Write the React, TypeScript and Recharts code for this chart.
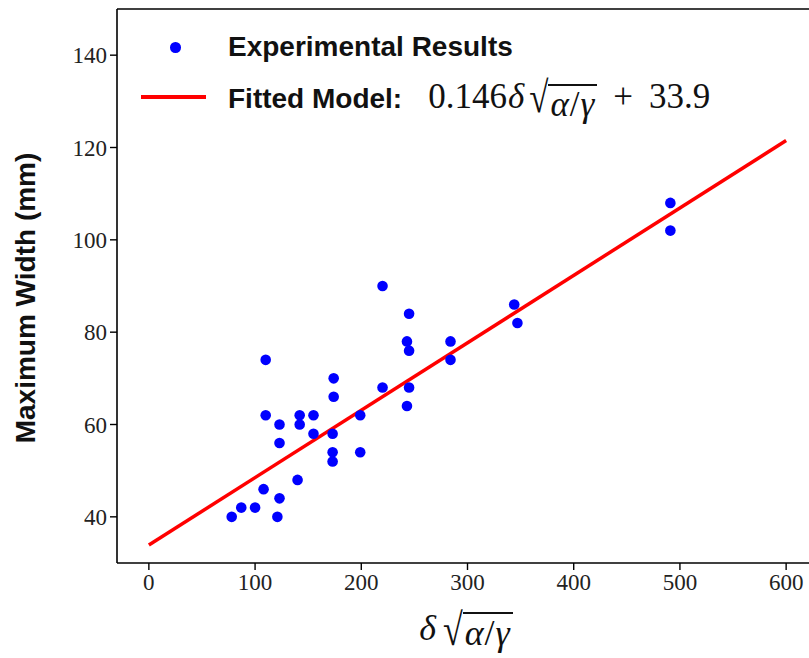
import React from "react";
import { ScatterChart, Scatter, XAxis, YAxis, Label, ReferenceLine } from "recharts";

const expX = [78, 87, 100, 121, 108, 123, 140, 110, 110, 123, 123, 142, 142, 155, 155, 174, 174, 173, 173, 173, 199, 199, 220, 220, 245, 243, 245, 245, 243, 284, 284, 344, 347, 491, 491];
const expY = [40, 42, 42, 40, 46, 44, 48, 74, 62, 60, 56, 62, 60, 62, 58, 70, 66, 58, 54, 52, 62, 54, 90, 68, 84, 78, 76, 68, 64, 78, 74, 86, 82, 108, 102];

// fitted model 0.146 x + 33.9, end points
const fitX = [0, 600];
const fitY = [33.9, 121.5];

const xTicks = [0, 100, 200, 300, 400, 500, 600];
const yTicks = [40, 60, 80, 100, 120, 140];

const expData = expX.map((x, i) => ({ x, y: expY[i] }));
const fitData = fitX.map((x, i) => ({ x, y: fitY[i] }));

const BLUE = "#0000ff";
const RED = "#ff0000";
const serif = "'Liberation Serif', 'DejaVu Serif', serif";
const sans = "'Liberation Sans', 'DejaVu Sans', sans-serif";

const tickStyle = { fontFamily: serif, fontSize: 23, fill: "#222" };

function Dot(props: any) {
  const { cx, cy } = props;
  return <circle cx={cx} cy={cy} r={5.3} fill={BLUE} />;
}

// radical sign with a bar over its argument
function Sqrt({ children, bar = 2 }: { children: React.ReactNode; bar?: number }) {
  return (
    <span style={{ whiteSpace: "nowrap", display: "inline-flex", alignItems: "flex-start" }}>
      <span style={{ fontStyle: "normal", display: "inline-block", transform: "scaleY(1.25)", transformOrigin: "50% 30%" }}>√</span>
      <span style={{ borderTop: `${bar}px solid #111`, marginTop: "0.12em", lineHeight: "1.1em", paddingLeft: 2, paddingRight: 2, letterSpacing: 1 }}>{children}</span>
    </span>
  );
}

function YLabel(props: any) {
  const { viewBox } = props;
  const cx = 25;
  const cy = viewBox.y + viewBox.height / 2 + 12;
  return (
    <text
      x={cx}
      y={cy}
      transform={`rotate(-90, ${cx}, ${cy})`}
      textAnchor="middle"
      dominantBaseline="central"
      style={{ fontFamily: sans, fontWeight: "bold", fontSize: 28, fill: "#111" }}
    >
      Maximum Width (mm)
    </text>
  );
}

export default function App() {
  return (
    <div style={{ position: "absolute", left: 0, top: 0, width: 809, height: 658, overflow: "hidden", background: "#fff" }}>
      <ScatterChart width={830} height={658} margin={{ top: 9, right: 12, bottom: 0, left: 0 }}>
        <XAxis
          type="number"
          dataKey="x"
          domain={[-30, 630]}
          ticks={xTicks}
          allowDataOverflow
          height={95}
          tickSize={7}
          tickMargin={4}
          axisLine={{ stroke: "#000", strokeWidth: 1.6 }}
          tickLine={{ stroke: "#000", strokeWidth: 1.4 }}
          tick={tickStyle}
        />
        <YAxis
          type="number"
          dataKey="y"
          domain={[30, 150]}
          ticks={yTicks}
          allowDataOverflow
          width={117}
          tickSize={7}
          tickMargin={3}
          axisLine={{ stroke: "#000", strokeWidth: 1.6 }}
          tickLine={{ stroke: "#000", strokeWidth: 1.4 }}
          tick={tickStyle}
        >
          <Label content={<YLabel />} />
        </YAxis>
        <ReferenceLine y={150} stroke="#000" strokeWidth={1.6} />
        <Scatter
          data={fitData}
          line={{ stroke: RED, strokeWidth: 3.5 }}
          lineType="joint"
          shape={() => <g />}
          isAnimationActive={false}
        />
        <Scatter data={expData} shape={<Dot />} isAnimationActive={false} />
      </ScatterChart>

      {/* legend */}
      <div style={{ position: "absolute", left: 170, top: 42, width: 10.6, height: 10.6, borderRadius: "50%", background: BLUE }} />
      <div style={{ position: "absolute", left: 141, top: 95, width: 65, height: 3.5, background: RED }} />
      <div style={{ position: "absolute", left: 228, top: 30, fontFamily: sans, fontWeight: "bold", fontSize: 28, color: "#111", lineHeight: "34px", whiteSpace: "nowrap" }}>
        Experimental Results
      </div>
      <div style={{ position: "absolute", left: 228, top: 80, display: "flex", alignItems: "baseline", fontFamily: sans, fontWeight: "bold", fontSize: 28, color: "#111", lineHeight: "34px", whiteSpace: "nowrap" }}>
        <span>Fitted Model:</span>
        <span style={{ fontFamily: serif, fontWeight: "normal", fontSize: 35, marginLeft: 26, display: "inline-flex", alignItems: "baseline" }}>
          0.146<i style={{ marginLeft: 1, marginRight: 5 }}>δ</i>
          <Sqrt>
            <i>α</i>/<i>γ</i>
          </Sqrt>
          <span style={{ margin: "0 16px" }}>+</span>33.9
        </span>
      </div>

      {/* x label */}
      <div style={{ position: "absolute", left: 366, width: 200, top: 608, display: "flex", justifyContent: "center", alignItems: "baseline", fontFamily: serif, fontSize: 36, color: "#111", lineHeight: "40px" }}>
        <i style={{ marginRight: 7 }}>δ</i>
        <Sqrt bar={2.5}>
          <i>α</i>/<i>γ</i>
        </Sqrt>
      </div>
    </div>
  );
}
